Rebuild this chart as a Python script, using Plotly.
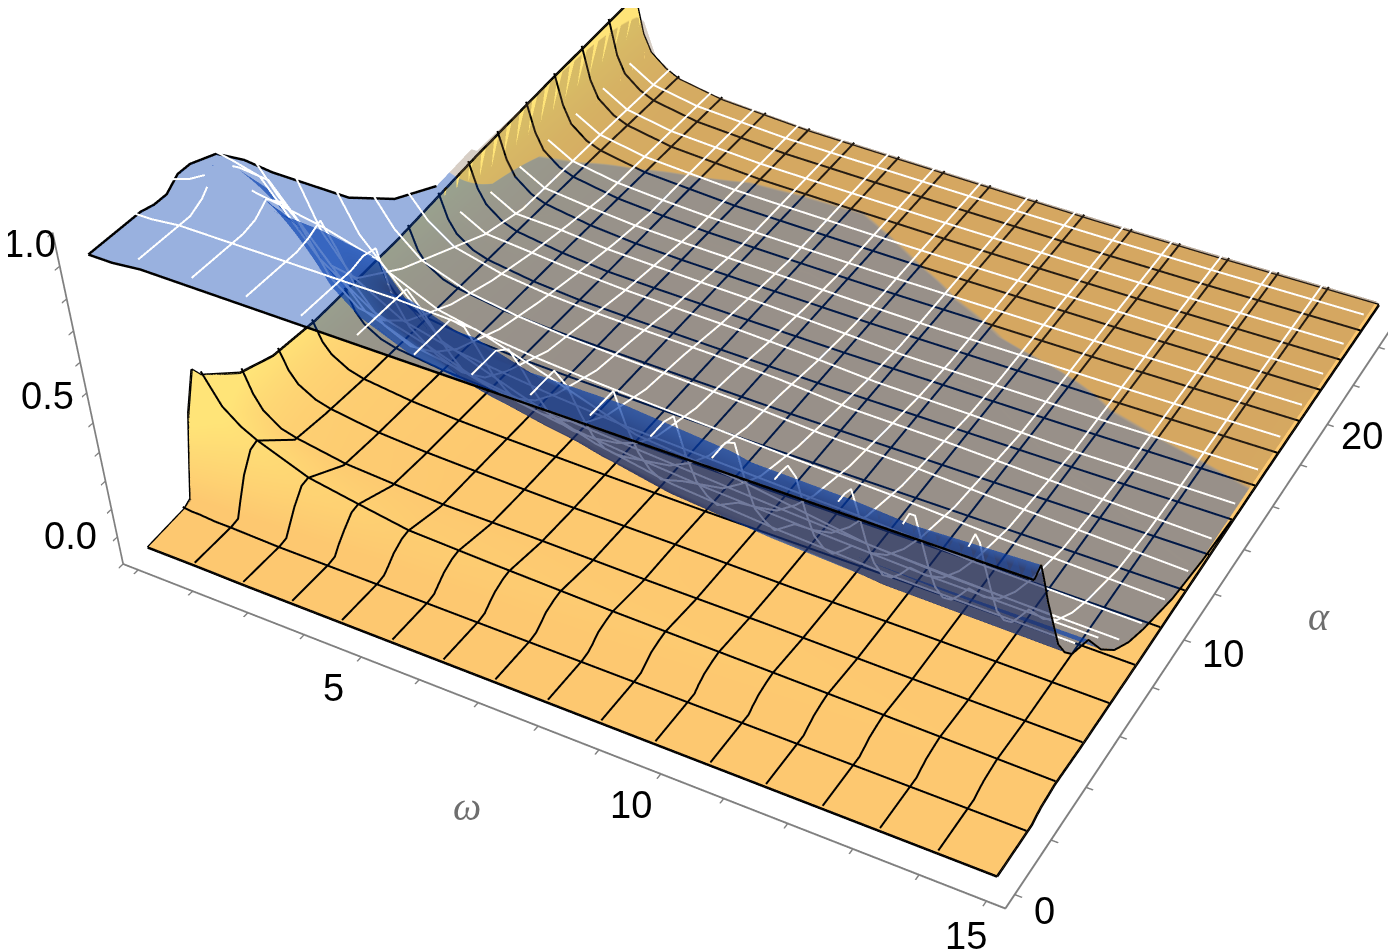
import numpy as np
import plotly.graph_objects as go

# ---- data ----
omega_orange = [1, 1.15, 1.3, 1.6, 1.875, 2.75, 3.6, 4.5, 6, 8, 10, 12, 15]
alpha_orange = [0, 1.6, 1.9, 2.1, 2.4, 2.8, 3.1, 4.6, 6, 8, 12, 16, 20, 25]
z_orange = [
 [-.058,-.058,-.058,-.058,-.058,-.06,-.06,-.06,-.06,-.06,-.06,-.06,-.06],
 [-.045,-.05,-.05,-.055,-.055,-.06,-.06,-.06,-.06,-.06,-.06,-.06,-.06],
 [-.03,-.04,-.045,-.05,-.05,-.055,-.055,-.055,-.055,-.055,-.06,-.06,-.06],
 [.08,.06,.04,.02,.0,-.025,-.03,-.04,-.04,-.045,-.045,-.05,-.05],
 [.24,.17,.13,.09,.07,.02,0,-.015,-.02,-.025,-.03,-.035,-.04],
 [.36,.27,.21,.16,.13,.065,.035,.005,-.005,-.015,-.02,-.025,-.035],
 [.32,.27,.22,.17,.14,.07,.04,.01,0,-.01,-.015,-.02,-.03],
 [.22,.14,.09,.045,.03,.0,-.01,-.02,-.02,-.025,-.025,-.03,-.035],
 [.18,.11,.07,.035,.02,-.005,-.015,-.02,-.025,-.025,-.03,-.03,-.035],
 [.17,.10,.065,.03,.015,-.005,-.015,-.02,-.025,-.03,-.03,-.03,-.035],
 [.19,.11,.07,.035,.02,-.005,-.015,-.02,-.025,-.03,-.03,-.03,-.03],
 [.23,.14,.09,.045,.025,0,-.015,-.02,-.025,-.03,-.03,-.03,-.025],
 [.26,.155,.095,.05,.03,0,-.01,-.02,-.025,-.03,-.03,-.03,-.025],
 [.29,.16,.10,.055,.03,0,-.01,-.02,-.025,-.03,-.035,-.035,-.03],
]
omega_blue = [1, 1.4, 1.875, 2.75, 3.6, 4.5, 5.4, 6.6, 7.8, 9, 10.6, 12.4, 15]
alpha_blue = [0, .3, .6, 1, 1.5, 2, 2.5, 3, 3.5, 4, 5, 6, 7, 8, 10, 12, 14, 16, 18, 20, 22, 24.6, 25]
z_blue = [
 [.92,.92,.93,.93,.93,.93,.93,.93,.93,.93,.93,.93,.93],
 [.92,.92,.93,.93,.93,.93,.93,.93,.93,.93,.93,.93,.95],
 [.92,.92,.93,.93,.93,.93,.93,.93,.93,.93,.93,.92,.88],
 [.92,.92,.93,.93,.93,.93,.93,.93,.93,.93,.90,.82,.78],
 [.92,.92,.93,.93,.93,.93,.93,.93,.86,.78,.75,.69,.67],
 [.92,.92,.93,.93,.93,.93,.93,.85,.74,.66,.62,.58,.56],
 [.91,.92,.95,.94,.94,.94,.83,.74,.63,.57,.54,.50,.49],
 [.91,.93,.99,.97,.96,.93,.72,.63,.55,.50,.47,.45,.44],
 [.94,.98,.99,.93,.84,.74,.62,.55,.49,.46,.44,.42,.42],
 [.94,.96,.95,.85,.70,.62,.53,.48,.44,.42,.41,.40,.40],
 [.91,.88,.85,.60,.50,.46,.41,.37,.35,.33,.31,.29,.28],
 [.83,.74,.65,.43,.36,.33,.30,.28,.26,.24,.22,.20,.19],
 [.73,.57,.45,.32,.27,.24,.22,.20,.19,.18,.16,.14,.13],
 [.64,.46,.34,.25,.21,.19,.17,.15,.14,.13,.12,.10,.09],
 [.46,.33,.24,.17,.14,.12,.11,.10,.09,.08,.07,.05,.03],
 [.33,.24,.17,.12,.10,.09,.085,.08,.07,.05,.045,.03,.0],
 [.25,.15,.10,.085,.07,.06,.055,.05,.04,.025,.02,.0,-.015],
 [.20,.10,.06,.06,.045,.04,.035,.03,.02,.005,.0,-.025,-.035],
 [.16,.08,.04,.03,.02,.015,.012,.01,.0,-.02,-.035,-.045,-.05],
 [.12,.06,.02,.0,-.002,-.005,-.008,-.012,-.027,-.04,-.05,-.055,-.06],
 [.09,.05,.01,-.02,-.03,-.03,-.03,-.032,-.045,-.05,-.06,-.065,-.065],
 [.05,.03,.0,-.04,-.05,-.05,-.055,-.055,-.06,-.065,-.07,-.07,-.07],
 [.05,.03,.0,-.04,-.05,-.05,-.055,-.055,-.06,-.065,-.07,-.07,-.07],
]
omega_ticks = list(range(1, 16))
alpha_ticks = list(range(0, 26, 2))
z_ticks = [-.1, 0, .1, .2, .3, .4, .5, .6, .7, .8, .9, 1.0]
omega_labels = [5, 10, 15]
alpha_labels = [0, 10, 20]
z_labels = [0.0, 0.5, 1.0]
omega_mesh = [1.875, 2.75, 3.625, 4.5, 5.375, 6.25, 7.125, 8, 8.875, 9.75, 10.625, 11.5, 12.375, 13.25, 14.125]
alpha_mesh = [1.5625, 3.125, 4.6875, 6.25, 7.8125, 9.375, 10.9375, 12.5, 14.0625, 15.625, 17.1875, 18.75, 20.3125, 21.875, 23.4375]

xo, yo, zo = np.array(omega_orange), np.array(alpha_orange), np.array(z_orange)
xb, yb, zb = np.array(omega_blue), np.array(alpha_blue), np.array(z_blue)

# orange level under each node of the blue grid
orange_at = np.array([[np.interp(w, xo, [np.interp(a, yo, zo[:, j]) for j in range(len(xo))]) for w in xb] for a in yb])
gap = zb - orange_at
lifted = np.maximum(zb, orange_at + .04)
lifted[-1] = orange_at[-1] + .004
below = gap[:, 0] < 0
shade = np.clip(gap * 5, -.3, .25)
shade[(zb > .47) & (zb < .9) & (xb[None, :] >= 4.5)] = .45
shade[below, 0] = -.4
lifted_lines = lifted.copy()
lifted_lines[below, 0] = np.nan

flat = dict(ambient=1, diffuse=0, specular=0, roughness=1, fresnel=0)

fig = go.Figure()
fig.add_surface(x=xo, y=yo, z=zo, surfacecolor=zo, cmin=-.03, cmax=.2,
                colorscale=[[0, "rgb(253,200,112)"], [1, "rgb(255,228,120)"]], showscale=False,
                lighting=flat, hoverinfo="skip")
fig.add_surface(x=xb, y=yb, z=lifted, surfacecolor=shade, cmin=-.4, cmax=.5, showscale=False,
                colorscale=[[0, "rgb(120,90,60)"], [.443, "rgb(120,90,60)"], [.445, "rgb(0,60,175)"],
                            [.72, "rgb(0,60,175)"], [.88, "rgb(25,40,95)"], [1, "rgb(25,40,95)"]],
                opacity=.999,
                opacityscale=[[0, 0], [.055, 0], [.056, .3], [.443, .3], [.445, .4], [.72, .4], [.88, .62], [1, .62]],
                lighting=flat, hoverinfo="skip")

def mesh_lines(x, y, z, color, width, lift):
    px, py, pz = [], [], []
    for m in omega_mesh:
        px += [m] * len(y) + [None]
        py += list(y) + [None]
        pz += [float(np.interp(m, x, z[i])) + lift for i in range(len(y))] + [None]
    for m in alpha_mesh:
        px += list(x) + [None]
        py += [m] * len(x) + [None]
        pz += [float(np.interp(m, y, z[:, j])) + lift for j in range(len(x))] + [None]
    pz = [None if v is None or np.isnan(v) else v for v in pz]
    fig.add_scatter3d(x=px, y=py, z=pz, mode="lines", line=dict(color=color, width=width),
                      connectgaps=False, showlegend=False, hoverinfo="skip")
mesh_lines(xo, yo, zo, "black", 4, .012)
mesh_lines(xb, yb, lifted_lines, "white", 4, .03)

def edge(xs, ys, zs, w=5):
    fig.add_scatter3d(x=xs, y=ys, z=zs, mode="lines", line=dict(color="black", width=w), showlegend=False, hoverinfo="skip")
edge(xo, [yo[0]] * len(xo), zo[0])
edge(xo, [yo[-1]] * len(xo), zo[-1])
edge([xo[0]] * len(yo), yo, zo[:, 0])
edge([xo[-1]] * len(yo), yo, zo[:, -1])
edge(xb, [yb[0]] * len(xb), zb[0])
near = yb <= 14
edge([xb[0]] * near.sum(), yb[near], zb[near, 0])
edge([xb[-1]] * near.sum(), yb[near], zb[near, -1], 4)

def ax(rng, vals):
    return dict(range=rng, tickmode="array", tickvals=vals, showticklabels=False, title=dict(text=""),
                showbackground=False, showgrid=False, zeroline=False, showspikes=False,
                showline=True, linecolor="rgb(128,128,128)", linewidth=4,
                ticks="outside", ticklen=6, tickcolor="rgb(128,128,128)", tickwidth=3)
tick_font = dict(family="Liberation Sans", size=38, color="black")
title_font = dict(family="Liberation Serif", size=40, color="rgb(110,110,110)")
notes = [
    dict(x=7.5, y=-.5, z=-.1, text="<i>ω</i>", showarrow=False, xshift=-41, yshift=-92, font=title_font),
    dict(x=15.28, y=11.5, z=-.1, text="<i>α</i>", showarrow=False, xshift=112, yshift=-11, font=title_font),
]
for w, sx, sy in zip(omega_labels, [-28, -30, -20], [-31, -31, -35]):
    notes.append(dict(x=w, y=-.5, z=-.1, text=str(w), showarrow=False, xshift=sx, yshift=sy, font=tick_font))
for a, sx, sy in zip(alpha_labels, [30, 39, 35], [-16, -14, -12]):
    notes.append(dict(x=15.28, y=a, z=-.1, text=str(a), showarrow=False, xshift=sx, yshift=sy, font=tick_font))
for v, sx, sy in zip(z_labels, [-47, -39, -23], [1, -3, -11]):
    notes.append(dict(x=.72, y=-.5, z=v, text=f"{v:.1f}", showarrow=False, xshift=sx, yshift=sy, font=tick_font))
fig.update_layout(
    width=1380, height=2200, margin=dict(l=0, r=0, t=0, b=0), paper_bgcolor="white", showlegend=False,
    scene=dict(domain=dict(x=[0, 1], y=[0, 1]),
        xaxis=ax([.72, 15.28], omega_ticks),
        yaxis=ax([-.5, 25.5], alpha_ticks),
        zaxis=ax([-.1, 1.0], z_ticks),
        aspectmode="manual", aspectratio=dict(x=1, y=1.047, z=.385),
        camera=dict(eye=dict(x=1.0689, y=-2.1214, z=1.5781), center=dict(x=.2158, y=-.5912, z=-.5795),
                    up=dict(x=0, y=0, z=1), projection=dict(type="perspective")),
        annotations=notes))
fig.write_html("out.html")
